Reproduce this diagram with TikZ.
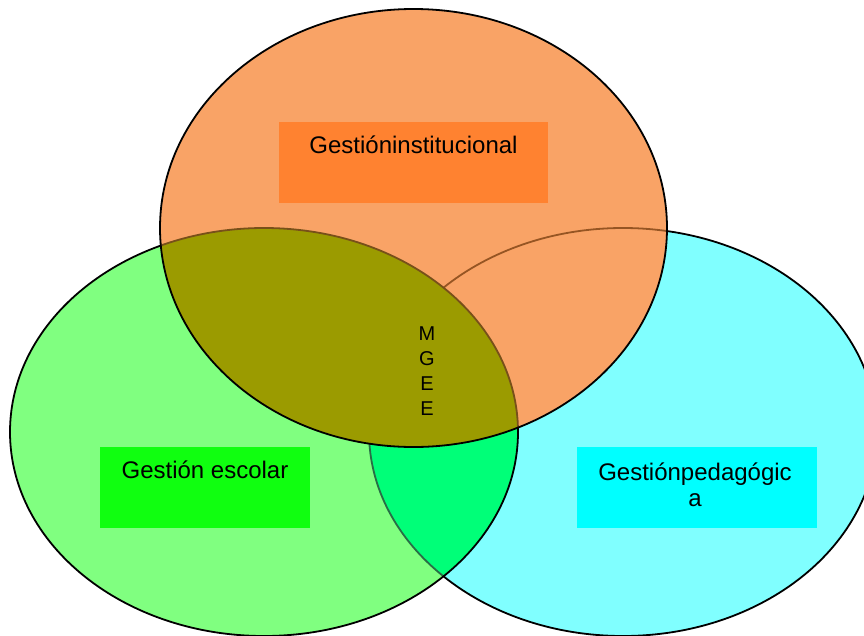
\documentclass[tikz,border=0pt]{standalone}
\usepackage{fontspec}
\setmainfont{Liberation Sans}
\begin{document}
\begin{tikzpicture}[x=1pt,y=-1pt,
  ring/.style={line width=1.8pt,draw=black},
  box/.style={rectangle,inner sep=0pt,minimum height=81},
  lbl/.style={inner sep=0pt,anchor=base,align=center,font=\fontsize{24}{26}\selectfont}]
\definecolor{orangefill}{RGB}{249,163,102}
\definecolor{olivefill}{RGB}{155,155,0}
\definecolor{greenfill}{RGB}{128,255,128}
\definecolor{cyanfill}{RGB}{128,255,255}
\definecolor{gcfill}{RGB}{0,255,120}
\definecolor{orangebox}{RGB}{255,130,48}
\definecolor{greenbox}{RGB}{16,255,16}
\definecolor{cyanbox}{RGB}{0,255,255}
\definecolor{cyanundergreen}{RGB}{40,110,70}
\definecolor{cyanunderorange}{RGB}{150,85,35}
\definecolor{greenunderorange}{RGB}{120,80,25}

\useasboundingbox (0,0) rectangle (864,635);
\clip (0,0) rectangle (864,635);

% right set: pedagogical management
\fill[cyanfill] (623,432) ellipse [x radius=254, y radius=204];
\draw[ring] (623,432) ellipse [x radius=254, y radius=204];

% left set: school management, with its overlap on the right set
\fill[greenfill] (264,432) ellipse [x radius=254, y radius=204];
\begin{scope}
  \clip (264,432) ellipse [x radius=254, y radius=204];
  \fill[gcfill] (623,432) ellipse [x radius=254, y radius=204];
  \draw[ring,draw=cyanundergreen] (623,432) ellipse [x radius=254, y radius=204];
\end{scope}
\draw[ring] (264,432) ellipse [x radius=254, y radius=204];

% top set: institutional management, laid over the other two
\fill[orangefill] (413.5,228) ellipse [x radius=253.5, y radius=219];
\begin{scope}
  \clip (413.5,228) ellipse [x radius=253.5, y radius=219];
  \draw[ring,draw=cyanunderorange] (623,432) ellipse [x radius=254, y radius=204];
  \fill[olivefill] (264,432) ellipse [x radius=254, y radius=204];
  \draw[ring,draw=greenunderorange] (264,432) ellipse [x radius=254, y radius=204];
\end{scope}
\draw[ring] (413.5,228) ellipse [x radius=253.5, y radius=219];

% label boxes
\node[box,fill=orangebox,minimum width=269] (instbox) at (413.5,162.5) {};
\node[box,fill=greenbox,minimum width=210] (escbox) at (205,487.5) {};
\node[box,fill=cyanbox,minimum width=240] (pedbox) at (697,487.5) {};

% labels (base anchor = baseline of the last line)
\node[lbl] (insttext) at (413.5,153.5) {Gestióninstitucional};
\node[lbl] (esctext) at (205,478.5) {Gestión escolar};
\node[lbl] (pedtext) at (695,506) {Gestiónpedagógic\\a};

% centre of the three sets
\node[inner sep=0pt,anchor=base,align=center,font=\fontsize{20}{24.8}\selectfont] (mgee) at (427,415) {M\\G\\E\\E};
\end{tikzpicture}
\end{document}
